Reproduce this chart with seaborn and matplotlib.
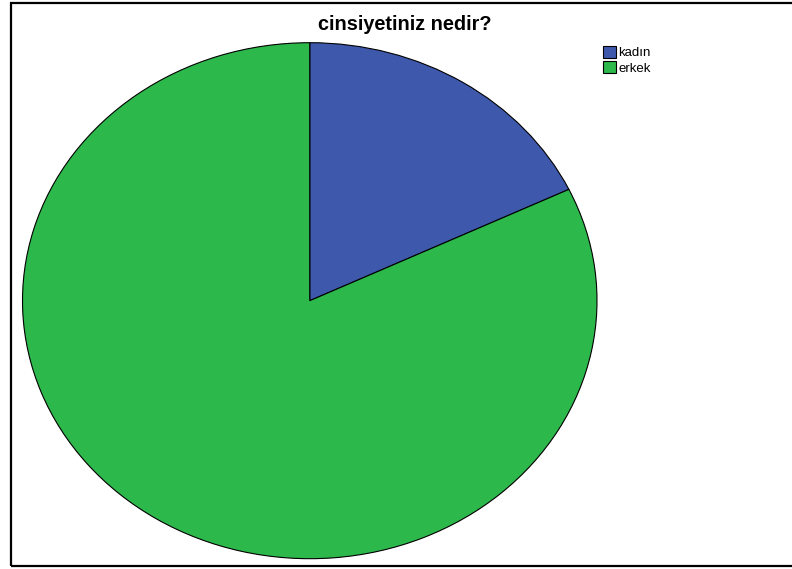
import matplotlib
matplotlib.use("Agg")
import matplotlib.pyplot as plt
from matplotlib.patches import Rectangle, Patch
import seaborn as sns

# Responses to "cinsiyetiniz nedir?" (percent)
categories = ["kadın", "erkek"]
values = [17.9, 82.1]
colors = ["#3e58ac", "#2db84b"]
title = "cinsiyetiniz nedir?"

sns.set_style("white")
plt.rcParams["font.family"] = ["Liberation Sans", "DejaVu Sans"]
plt.rcParams["text.color"] = "black"

W, H = 792, 569
fig = plt.figure(figsize=(W / 100, H / 100), dpi=100)

# pie area in pixels: stretched into an ellipse
x0, x1 = 22.5, 597.0
y0, y1 = 42.7, 558.7
ax = fig.add_axes([x0 / W, 1 - y1 / H, (x1 - x0) / W, (y1 - y0) / H])
ax.pie(values, colors=colors, startangle=90, counterclock=False,
       wedgeprops=dict(edgecolor="black", linewidth=0.8), radius=1.0)
ax.set_xlim(-1, 1)
ax.set_ylim(-1, 1)
ax.set_aspect("auto")
ax.axis("off")

# outer frame
fig.patches.append(Rectangle((11 / W, 1 - 566 / H), (W + 5 - 11) / W, (566 - 2.5) / H,
                             transform=fig.transFigure, fill=False,
                             edgecolor="black", linewidth=1.6, clip_on=False))

fig.text(405 / W, 1 - 25 / H, title, ha="center", va="center",
         fontsize=14.3, fontweight="bold", color="black")

handles = [Patch(facecolor=c, edgecolor="black", linewidth=0.8) for c in colors]
fig.legend(handles, categories, loc="upper left",
           bbox_to_anchor=(594 / W, 1 - 37 / H), frameon=False,
           fontsize=9.5, handlelength=0.95, handleheight=0.95,
           handletextpad=0.2, labelspacing=0.15, borderpad=0.2,
           labelcolor="black")

fig.savefig("out.png", dpi=100)
